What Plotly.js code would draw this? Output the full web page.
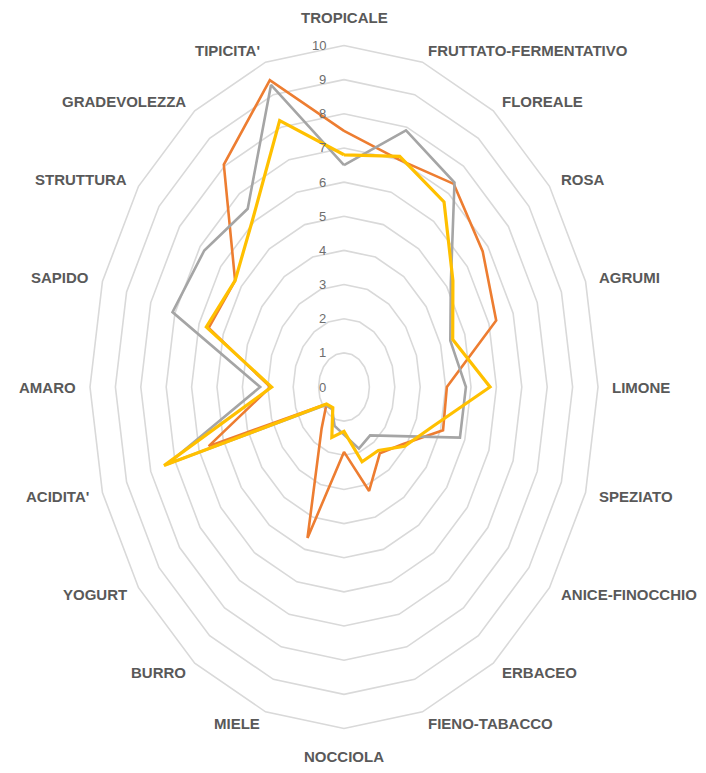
<!DOCTYPE html>
<html>
<head>
<meta charset="utf-8">
<script src="https://cdn.plot.ly/plotly-3.0.1.min.js"></script>
<style>
html,body{margin:0;padding:0;background:#fff;}
#chart{width:706px;height:773px;}
</style>
</head>
<body>
<div id="chart"></div>
<script>
const categories = ["TROPICALE","FRUTTATO-FERMENTATIVO","FLOREALE","ROSA","AGRUMI","LIMONE","SPEZIATO","ANICE-FINOCCHIO","ERBACEO","FIENO-TABACCO","NOCCIOLA","MIELE","BURRO","YOGURT","ACIDITA'","AMARO","SAPIDO","STRUTTURA","GRADEVOLEZZA","TIPICITA'"];
const seriesOrange = [7.5, 7.0, 7.35, 6.75, 6.3, 4.05, 4.1, 2.85, 2.4, 3.2, 1.9, 4.65, 1.5, 0.85, 5.6, 2.9, 5.6, 5.3, 8.05, 9.45];
const seriesGray   = [6.5, 7.9, 7.4, 5.2, 4.4, 4.8, 4.8, 2.45, 1.75, 1.9, 1.4, 1.2, 0.8, 0.9, 7.3, 3.3, 7.1, 6.8, 6.45, 9.3];
const seriesYellow = [6.8, 7.1, 6.7, 5.3, 4.5, 5.75, 3.7, 2.95, 2.3, 2.3, 1.3, 1.55, 0.75, 0.85, 7.45, 2.85, 5.7, 5.3, 6.1, 8.2];
const tickValues = [0,1,2,3,4,5,6,7,8,9,10];

const n = categories.length;
const ang = categories.map((c,i)=> i*2*Math.PI/n);

function ring(values){
  const x=[], y=[];
  values.forEach((r,i)=>{ x.push(r*Math.sin(ang[i])); y.push(r*Math.cos(ang[i])); });
  x.push(x[0]); y.push(y[0]);
  return {x,y};
}

const traces = [];
tickValues.filter(v=>v>0).forEach(v=>{
  const p = ring(categories.map(()=>v));
  traces.push({x:p.x,y:p.y,mode:'lines',type:'scatter',hoverinfo:'skip',
    line:{color:'#d9d9d9',width:1.6},showlegend:false});
});
const series = [
  {vals:seriesOrange,color:'#ED7D31',w:2.6},
  {vals:seriesGray,color:'#A5A5A5',w:2.6},
  {vals:seriesYellow,color:'#FFC000',w:3.2}
];
series.forEach(s=>{
  const p = ring(s.vals);
  traces.push({x:p.x,y:p.y,mode:'lines',type:'scatter',
    line:{color:s.color,width:s.w,shape:'linear'},showlegend:false});
});

const annotations = [];
tickValues.forEach(v=>{
  annotations.push({x:0,y:v,xref:'x',yref:'y',text:String(v),showarrow:false,
    xanchor:'right',yanchor:'middle',xshift:-16,
    font:{family:'Liberation Sans, Arial, sans-serif',size:13,color:'#6e6e6e'}});
});
const maxR = tickValues[tickValues.length-1];
categories.forEach((c,i)=>{
  const s=Math.sin(ang[i]), co=Math.cos(ang[i]);
  const xa = s>0.1?'left':(s<-0.1?'right':'center');
  const extra = Math.abs(s)<0.1 ? 16*Math.sign(co) : 0;
  annotations.push({x:maxR*s,y:maxR*co,xref:'x',yref:'y',text:c,showarrow:false,
    xanchor:xa,yanchor:'middle',xshift:12*s,yshift:12*co+extra,
    font:{family:'Liberation Sans, Arial, sans-serif',size:15,color:'#595959',weight:'bold'}});
});

const W=706,H=773,cx=344,cy=387,ux=25.4,uy=34.15;
const layout = {
  width:W,height:H,margin:{l:0,r:0,t:0,b:0},
  paper_bgcolor:'#ffffff',plot_bgcolor:'#ffffff',
  xaxis:{range:[-cx/ux,(W-cx)/ux],visible:false,fixedrange:true},
  yaxis:{range:[-(H-cy)/uy,cy/uy],visible:false,fixedrange:true},
  showlegend:false,annotations:annotations
};
Plotly.newPlot('chart',traces,layout,{displayModeBar:false,staticPlot:true});
</script>
</body>
</html>
